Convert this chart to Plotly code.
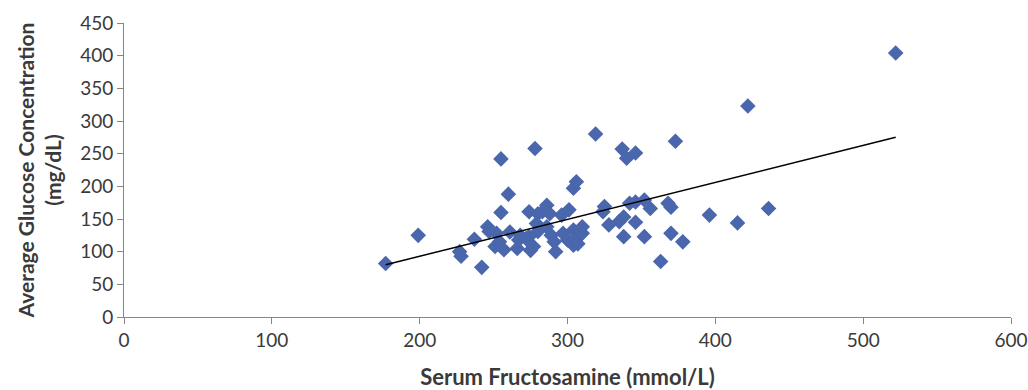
import plotly.graph_objects as go

fructosamine = [177, 199, 227, 228, 237, 242, 246, 247, 252, 251, 254, 255, 255, 257, 260,
                261, 266, 268, 272, 267, 274, 275, 278, 280, 279, 280, 274, 277, 283, 286,
                288, 286, 289, 291, 292, 296, 297, 300, 301, 304, 306, 304, 304, 306, 307,
                310, 310, 319, 324, 325, 328, 335, 338, 338, 337, 340, 346, 342, 346, 352,
                356, 346, 352, 368, 370, 370, 373, 378, 363, 396, 415, 422, 436, 522]
glucose = [82, 125, 100, 93, 119, 76, 138, 131, 128, 108, 115, 242, 160, 103, 188,
           130, 105, 125, 120, 118, 161, 102, 258, 158, 143, 131, 123, 108, 161, 171,
           158, 138, 125, 115, 100, 156, 128, 118, 164, 197, 207, 133, 110, 121, 112,
           138, 128, 280, 161, 169, 141, 146, 153, 123, 257, 243, 251, 174, 176, 179,
           166, 145, 123, 174, 168, 128, 269, 115, 85, 156, 144, 323, 166, 404]

trend_x = [177, 522]
trend_y = [80, 275]

x_ticks = [0, 100, 200, 300, 400, 500, 600]
y_ticks = [0, 50, 100, 150, 200, 250, 300, 350, 400, 450]

font_family = "Lato, Open Sans, sans-serif"
text_color = "#3a3a3a"

fig = go.Figure()
fig.add_trace(go.Scatter(
    x=fructosamine, y=glucose, mode="markers",
    marker=dict(symbol="diamond", size=12, color="#4A66AC", line=dict(width=0)),
    showlegend=False, hoverinfo="x+y"))
fig.add_trace(go.Scatter(
    x=trend_x, y=trend_y, mode="lines",
    line=dict(color="#000000", width=1.5), showlegend=False, hoverinfo="skip"))

fig.update_layout(
    width=1028, height=390,
    margin=dict(l=124, r=17, t=23, b=73),
    paper_bgcolor="white", plot_bgcolor="white",
    font=dict(family=font_family, size=19, color=text_color),
)
fig.update_xaxes(
    range=[0, 600], tickvals=x_ticks, showgrid=False, zeroline=False,
    showline=True, linecolor="#868686", linewidth=1,
    ticks="outside", ticklen=6, tickcolor="#868686", automargin=False,
    tickfont=dict(size=19, color=text_color), ticklabeloverflow="allow",
    title=dict(text="<b>Serum Fructosamine (mmol/L)</b>", font=dict(size=22, color=text_color), standoff=20),
)
fig.update_yaxes(
    range=[0, 450], tickvals=y_ticks, showgrid=False, zeroline=False,
    showline=True, linecolor="#868686", linewidth=1,
    ticks="outside", ticklen=6, tickcolor="#868686", automargin=False,
    tickfont=dict(size=19, color=text_color),
    title=dict(text="<b>Average Glucose Concentration<br>(mg/dL)</b>", font=dict(size=21, color=text_color), standoff=12),
)

fig.write_html("out.html")
